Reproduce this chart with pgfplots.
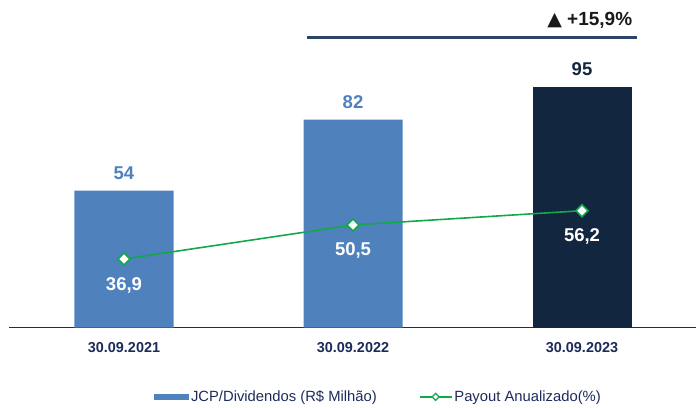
\documentclass[border=0pt]{standalone}
\usepackage{pgfplots}
\pgfplotsset{compat=1.18}
\usepackage{fontspec}
\setmainfont{Liberation Sans}
\newfontfamily\symfont{DejaVu Sans}
\definecolor{barblue}{HTML}{4F81BD}
\definecolor{barnavy}{HTML}{12263F}
\definecolor{linegreen}{HTML}{13A84A}
\definecolor{textnavy}{HTML}{1C2B5A}
\definecolor{bracket}{HTML}{2B4468}

\begin{document}
\begin{tikzpicture}
\useasboundingbox (-9.5pt,-79.3pt) rectangle (686.5pt,327.7pt);
\begin{axis}[
  at={(0pt,0pt)}, anchor=south west,
  scale only axis, width=687pt, height=327.7pt,
  xmin=-0.5, xmax=2.5, ymin=0, ymax=129.2,
  axis y line=none, axis x line*=bottom,
  x axis line style={-, draw=textnavy, line width=1.2pt},
  xtick={0,1,2}, xticklabels={30.09.2021,30.09.2022,30.09.2023},
  major tick length=0pt,
  xticklabel style={font=\fontsize{14.4}{16}\selectfont\bfseries, text=textnavy, yshift=-11pt},
  /pgf/number format/assume math mode=true,
  legend columns=2,
  legend style={at={(0.537,-0.211)}, anchor=center, draw=none, fill=none,
    font=\fontsize{14.8}{16}\selectfont, text=textnavy,
    /tikz/every even column/.append style={column sep=40pt}},
  clip=false,
]
\addplot[ybar, bar width=99pt, bar shift=0pt, fill=barblue, draw=none,
  legend image code/.code={\fill[barblue] (0pt,-3pt) rectangle (35pt,3pt);},
  nodes near coords,
  every node near coord/.append style={font=\fontsize{18.5}{20}\selectfont\bfseries,
    text=barblue, anchor=center, yshift=18pt}]
  coordinates {(0,54) (1,82)};
\addlegendentry{JCP/Dividendos (R\$ Milhão)}
\addplot[ybar, bar width=99pt, bar shift=0pt, fill=barnavy, draw=none, forget plot,
  nodes near coords,
  every node near coord/.append style={font=\fontsize{18.5}{20}\selectfont\bfseries,
    text=barnavy, anchor=center, yshift=18pt}]
  coordinates {(2,95)};
\addlegendimage{linegreen, line width=1.5pt,
  legend image code/.code={
    \draw[linegreen, line width=1.5pt] (0pt,0pt) -- (32pt,0pt);
    \draw[linegreen, line width=1.3pt, fill=white] (16pt,3.5pt) -- (19.5pt,0pt) -- (16pt,-3.5pt) -- (12.5pt,0pt) -- cycle;}}
\addlegendentry{Payout Anualizado(\%)}
\draw[bracket, line width=3pt] (axis cs:0.797,114.6) -- (axis cs:2.238,114.6);
\node[anchor=east, font=\fontsize{19}{21}\selectfont\bfseries, text=black!90, inner sep=0pt]
  at (axis cs:2.22,121.3) {{\symfont ▲} +15,9\%};
\end{axis}
\begin{axis}[
  at={(0pt,0pt)}, anchor=south west,
  scale only axis, width=687pt, height=327.7pt,
  xmin=-0.5, xmax=2.5, ymin=9.45, ymax=140.4,
  hide axis, clip=false,
  /pgf/number format/.cd, use comma, fixed, fixed zerofill, precision=1, assume math mode=true,
]
\addplot[linegreen, line width=1.6pt, mark=square*, mark size=4.2pt,
  mark options={fill=white, draw=linegreen, line width=1.6pt, rotate=45},
  nodes near coords,
  every node near coord/.append style={font=\fontsize{18.5}{20}\selectfont\bfseries,
    text=white, anchor=center, yshift=-26pt}]
  coordinates {(0,36.9) (1,50.5) (2,56.2)};
\end{axis}
\end{tikzpicture}
\end{document}
